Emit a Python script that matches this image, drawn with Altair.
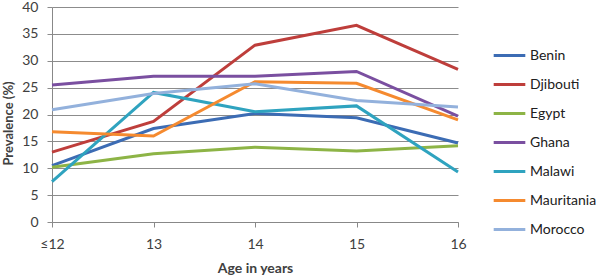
import altair as alt
import pandas as pd

ages = ["≤12", "13", "14", "15", "16"]
countries = ["Benin", "Djibouti", "Egypt", "Ghana", "Malawi", "Mauritania", "Morocco"]
benin = [10.5, 17.4, 20.2, 19.4, 14.7]
djibouti = [13.0, 18.7, 32.9, 36.6, 28.4]
egypt = [10.2, 12.7, 13.9, 13.2, 14.2]
ghana = [25.5, 27.1, 27.1, 28.0, 19.7]
malawi = [7.5, 24.1, 20.5, 21.6, 9.3]
mauritania = [16.8, 16.0, 26.1, 25.8, 19.0]
morocco = [20.9, 23.9, 25.7, 22.6, 21.4]
colors = ["#3C6CB4", "#BE3E3B", "#8DB446", "#7A4FA0", "#2FA3BF", "#F58A2F", "#93B1DC"]

series = [benin, djibouti, egypt, ghana, malawi, mauritania, morocco]
rows = []
for c, vals in zip(countries, series):
    for a, v in zip(ages, vals):
        rows.append({"Country": c, "Age": a, "Prevalence": v})
df = pd.DataFrame(rows)

font = "Lato"
chart = alt.Chart(df).mark_line(strokeWidth=3).encode(
    x=alt.X("Age:N", sort=ages, scale=alt.Scale(type="point", padding=0),
            axis=alt.Axis(title="Age in years", labelAngle=0, grid=False,
                          domainColor="#888888", tickColor="#888888", tickSize=5,
                          labelPadding=10, titlePadding=10, labelFontSize=14,
                          titleFontSize=14, labelFont=font, titleFont=font,
                          labelColor="#404040", titleColor="#404040")),
    y=alt.Y("Prevalence:Q", scale=alt.Scale(domain=[0, 40]),
            axis=alt.Axis(title="Prevalence (%)", values=list(range(0, 41, 5)),
                          gridColor="#8C8C8C", gridWidth=1, domainColor="#888888",
                          tickColor="#8C8C8C", tickSize=5, labelPadding=9,
                          titleX=-40, titleY=116, titleBaseline="alphabetic",
                          labelFontSize=14, titleFontSize=13,
                          labelFont=font, titleFont=font,
                          labelColor="#404040", titleColor="#404040")),
    color=alt.Color("Country:N", sort=countries,
                    scale=alt.Scale(domain=countries, range=colors),
                    legend=alt.Legend(title=None, orient="none", legendX=440, legendY=31,
                                      symbolType="stroke", symbolSize=1000,
                                      symbolStrokeWidth=3, labelFontSize=14,
                                      labelFont=font, labelColor="#202020",
                                      rowPadding=4, labelOffset=3)),
).properties(width=406, height=215,
             padding={"left": 52, "top": 7, "right": 142, "bottom": 53},
             autosize=alt.AutoSizeParams(type="none")).configure_view(stroke=None)

chart.save("out.html", embed_options={"renderer": "svg", "actions": False})
